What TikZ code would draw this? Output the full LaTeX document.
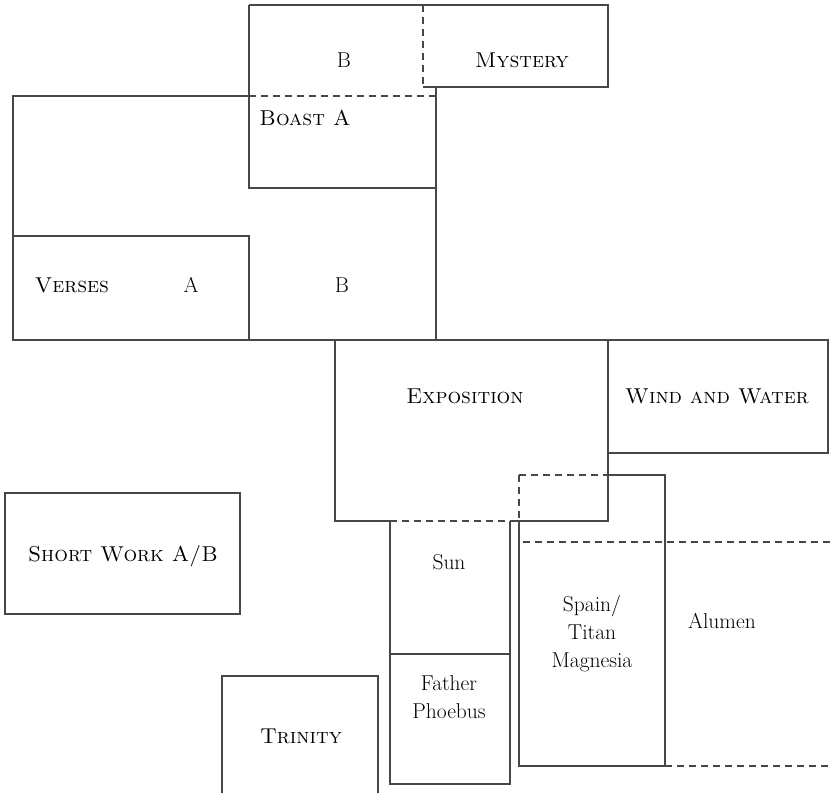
\documentclass[tikz,border=0pt]{standalone}
\usetikzlibrary{positioning}
\begin{document}
\begin{tikzpicture}[x=1pt,y=-1pt,
  wall/.style={draw=black!72,line width=1.1pt,line join=miter},
  seam/.style={draw=black!72,line width=1.1pt,dash pattern=on 7pt off 5pt},
  lbl/.style={font=\fontsize{21.5}{28}\selectfont,align=center,inner sep=0pt,text=black}]
\useasboundingbox (0,0) rectangle (833,793);

% upper block: B / Mystery / Boast A / Verses
\draw[wall] (249,5) -- (608,5) -- (608,87) -- (423,87);
\draw[seam] (423,5) -- (423,87);
\draw[wall] (249,5) -- (249,188) -- (436,188);
\draw[seam] (249,96) -- (436,96);
\draw[wall] (436,87) -- (436,340);
\draw[wall] (249,96) -- (13,96) -- (13,340) -- (436,340);
\draw[wall] (13,236) -- (249,236) -- (249,340);

% Exposition
\draw[wall] (436,340) -- (608,340) -- (608,521) -- (510,521);
\draw[wall] (390,521) -- (335,521) -- (335,340);
\draw[seam] (390,521) -- (510,521);

% Wind and Water
\draw[wall] (608,340) -- (828,340) -- (828,453) -- (608,453);

% Sun / Father Phoebus
\draw[wall] (390,521) -- (390,784) -- (510,784) -- (510,521);
\draw[wall] (390,654) -- (510,654);

% Spain / Titan Magnesia and Alumen
\draw[seam] (519,475) -- (519,521);
\draw[seam] (519,475) -- (608,475);
\draw[wall] (608,475) -- (665,475) -- (665,766) -- (519,766) -- (519,521);
\draw[seam] (523,542) -- (833,542);
\draw[seam] (665,766) -- (833,766);

% Short Work
\draw[wall] (5,493) rectangle (240,614);

% Trinity
\draw[wall] (222,793) -- (222,676) -- (378,676) -- (378,793);

% labels
\node[lbl] (topb) at (344,60) {B};
\node[lbl] (mystery) at (522,60) {\textsc{Mystery}};
\node[lbl] (boast) at (305,118) {\textsc{Boast A}};
\node[lbl] (verses) at (72,285) {\textsc{Verses}};
\node[lbl] (versa) at (191,285) {A};
\node[lbl] (versb) at (342,285) {B};
\node[lbl] (expo) at (465,396) {\textsc{Exposition}};
\node[lbl] (wind) at (717,396) {\textsc{Wind and Water}};
\node[lbl] (short) at (123,556) {\textsc{Short Work A/B}};
\node[lbl] (sun) at (449,562) {Sun};
\node[lbl] (spain) at (592,634) {Spain/\\Titan\\Magnesia};
\node[lbl] (alumen) at (722,621) {Alumen};
\node[lbl] (father) at (449,697) {Father\\Phoebus};
\node[lbl] (trinity) at (301,736) {\textsc{Trinity}};
\end{tikzpicture}
\end{document}
